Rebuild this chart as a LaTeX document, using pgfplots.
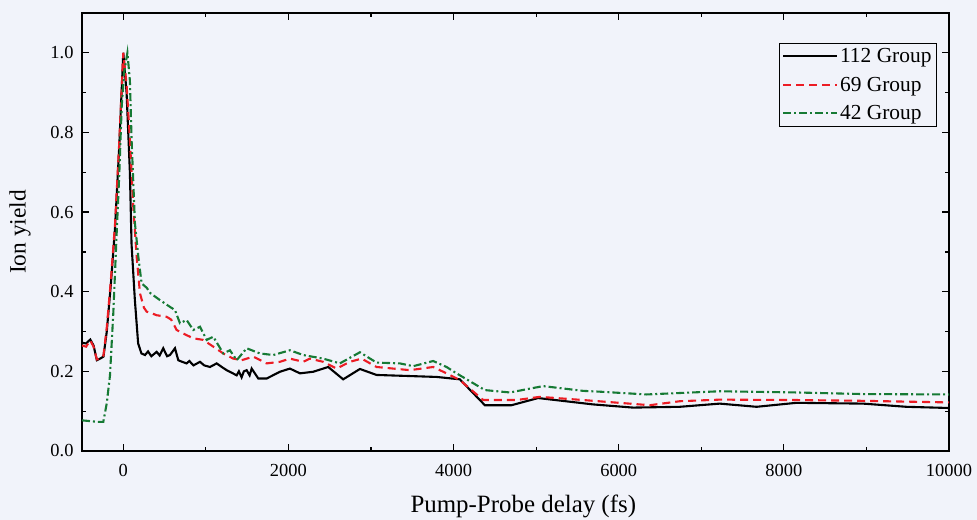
\documentclass[border=0pt]{standalone}
\usepackage{fontspec}
\setmainfont{Liberation Serif}
\usepackage{pgfplots}
\pgfplotsset{compat=1.18}
\definecolor{bgc}{RGB}{241,243,250}
\definecolor{myred}{RGB}{236,28,36}
\definecolor{mygreen}{RGB}{22,122,52}
\begin{document}
\begin{tikzpicture}
\path[use as bounding box, fill=bgc] (-82bp,-69bp) rectangle (895bp,451bp);
\begin{axis}[
  at={(0bp,0bp)}, anchor=south west,
  scale only axis, width=867bp, height=438bp,
  xmin=-500, xmax=10000, ymin=0, ymax=1.1,
  xtick={0,2000,4000,6000,8000,10000},
  ytick={0,0.2,0.4,0.6,0.8,1.0},
  minor x tick num=1, minor y tick num=1,
  tick align=inside,
  major tick length=7bp, minor tick length=4bp,
  every tick/.style={black, line width=1.2bp},
  axis line style={line width=1.6bp},
  /pgf/number format/assume math mode=true,
  scaled x ticks=false,
  xticklabel style={/pgf/number format/fixed, /pgf/number format/1000 sep={}, yshift=-10bp},
  yticklabel style={/pgf/number format/fixed, /pgf/number format/fixed zerofill, /pgf/number format/precision=1, xshift=-5bp},
  tick label style={font=\fontsize{18.5}{20}\selectfont},
  xlabel={Pump-Probe delay (fs)},
  ylabel={Ion yield},
  xlabel style={font=\fontsize{25}{27}\selectfont, at={(axis description cs:0.509,-0.127)}, anchor=center},
  ylabel style={font=\fontsize{23.5}{25}\selectfont, at={(axis description cs:-0.0715,0.5)}, anchor=center},
  legend style={at={(axis description cs:0.9858,0.9315)}, anchor=north east,
    draw=black, fill=bgc,
    font=\fontsize{21.5}{23}\selectfont, row sep=9bp, inner sep=3bp},
  legend cell align=left,
  legend image code/.code={\draw[#1, line width=1.8bp] (0bp,0bp) -- (54bp,0bp);},
]
\addplot[black, line width=2.1bp] coordinates {
(-500,0.272) (-450,0.270) (-400,0.280) (-360,0.265) (-320,0.228) (-280,0.232)
(-240,0.237) (-200,0.30) (-150,0.42) (-100,0.56) (-50,0.76) (0,1.0) (40,0.90)
(80,0.70) (100,0.52) (140,0.38) (180,0.27) (220,0.245) (263,0.241) (300,0.25)
(340,0.238) (404,0.249) (440,0.24) (484,0.258) (530,0.238) (565,0.241)
(626,0.258) (666,0.228) (700,0.225) (767,0.220) (800,0.226) (850,0.215)
(929,0.224) (980,0.215) (1050,0.211) (1131,0.220) (1200,0.21) (1252,0.203)
(1300,0.198) (1373,0.190) (1400,0.2) (1433,0.185) (1460,0.2) (1494,0.203)
(1530,0.19) (1555,0.207) (1635,0.182) (1736,0.182) (1897,0.199) (2018,0.207)
(2140,0.195) (2300,0.199) (2482,0.211) (2663,0.180) (2866,0.206) (3067,0.191)
(3794,0.186) (4076,0.180) (4379,0.115) (4702,0.115) (5024,0.133) (5690,0.117)
(6174,0.109) (6740,0.111) (7224,0.119) (7669,0.111) (8153,0.121) (8960,0.119)
(9484,0.111) (10000,0.108)
};
\addlegendentry{112 Group}
\addplot[myred, line width=2.1bp, dash pattern=on 8bp off 5bp] coordinates {
(-500,0.265) (-450,0.262) (-400,0.278) (-360,0.262) (-320,0.230) (-280,0.232)
(-240,0.24) (-200,0.31) (-150,0.43) (-100,0.57) (-50,0.77) (0,1.0) (40,0.92)
(81,0.78) (121,0.614) (162,0.488) (202,0.396) (250,0.36) (283,0.350)
(343,0.346) (404,0.341) (525,0.337) (580,0.33) (626,0.312) (646,0.304)
(726,0.295) (847,0.283) (969,0.279) (1090,0.262) (1211,0.245) (1332,0.232)
(1433,0.228) (1574,0.237) (1736,0.220) (1897,0.224) (2018,0.232) (2179,0.224)
(2260,0.232) (2421,0.224) (2583,0.207) (2745,0.224) (2886,0.232) (3067,0.211)
(3471,0.203) (3753,0.211) (3915,0.195) (4076,0.178) (4359,0.128) (4763,0.128)
(5045,0.136) (5569,0.128) (6377,0.115) (6740,0.125) (7224,0.129) (8153,0.128)
(8960,0.126) (10000,0.122)
};
\addlegendentry{69 Group}
\addplot[mygreen, line width=2.1bp, dash pattern=on 8bp off 3bp on 2bp off 3bp] coordinates {
(-500,0.077) (-400,0.075) (-300,0.073) (-242,0.073) (-200,0.12) (-161,0.19)
(-121,0.346) (-80,0.547) (-48,0.698) (-19,0.866) (10,0.95) (50,1.0) (80,0.93)
(101,0.78) (141,0.572) (182,0.488) (222,0.421) (283,0.410) (330,0.396)
(444,0.379) (565,0.362) (626,0.354) (686,0.321) (767,0.329) (848,0.304)
(929,0.312) (1010,0.279) (1090,0.287) (1211,0.245) (1292,0.253) (1373,0.228)
(1494,0.258) (1655,0.245) (1816,0.241) (2018,0.253) (2179,0.241) (2421,0.232)
(2623,0.220) (2866,0.248) (3067,0.222) (3350,0.220) (3511,0.213) (3753,0.226)
(3915,0.211) (4036,0.195) (4379,0.153) (4682,0.147) (5085,0.163) (5569,0.151)
(5770,0.149) (6336,0.142) (7224,0.150) (8153,0.147) (8960,0.143) (10000,0.142)
};
\addlegendentry{42 Group}
\end{axis}
\end{tikzpicture}
\end{document}
